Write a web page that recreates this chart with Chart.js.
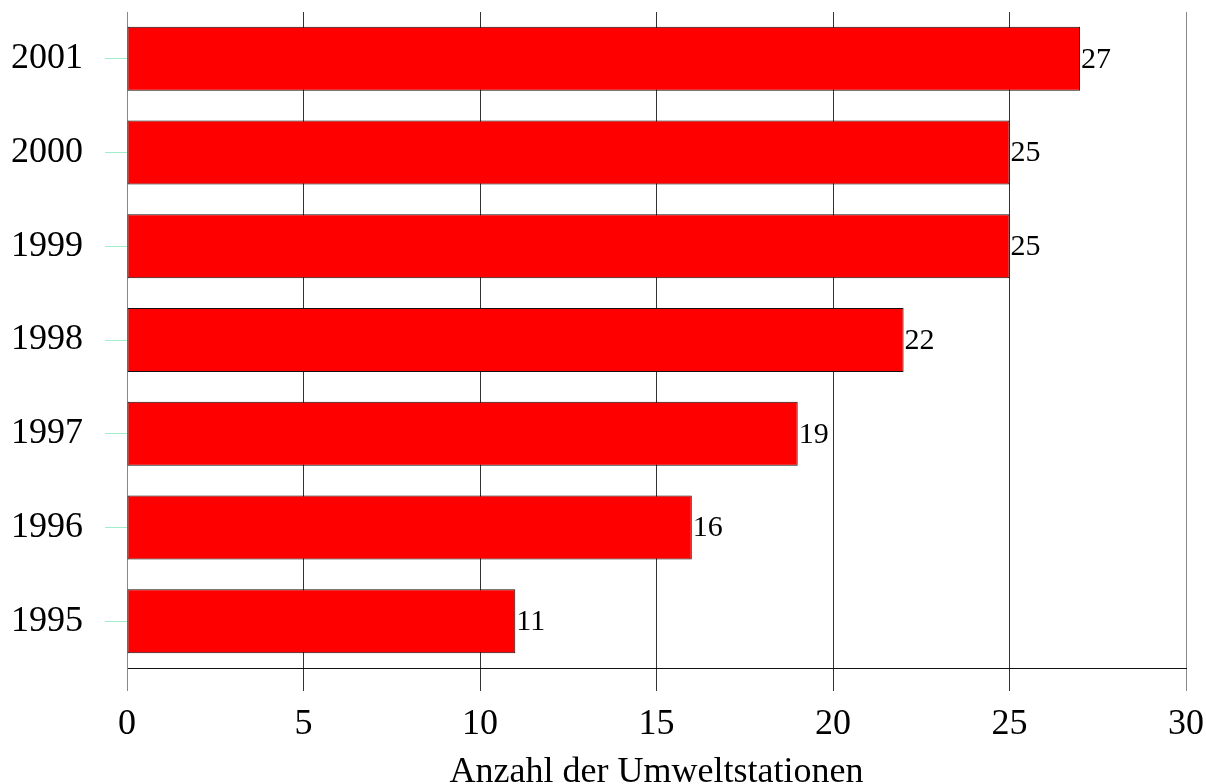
<!DOCTYPE html>
<html>
<head>
<meta charset="utf-8">
<script src="https://cdn.jsdelivr.net/npm/chart.js@4/dist/chart.umd.min.js"></script>
<style>
    html, body { margin: 0; padding: 0; background: #fff; }
    #wrap { width: 1206px; height: 784px; }
</style>
</head>
<body>
<div id="wrap"><canvas id="chart" width="1206" height="784"></canvas></div>
<script>
const years = ['2001', '2000', '1999', '1998', '1997', '1996', '1995'];
const stations = [27, 25, 25, 22, 19, 16, 11];
const xTicks = [0, 5, 10, 15, 20, 25, 30];
const xTitle = 'Anzahl der Umweltstationen';

const serif = '"Liberation Serif", "Times New Roman", serif';

// value labels right next to the end of each bar
const barLabels = {
    id: 'barLabels',
    afterDatasetsDraw(chart) {
        const ctx = chart.ctx;
        const meta = chart.getDatasetMeta(0);
        ctx.save();
        ctx.font = `30px ${serif}`;
        ctx.fillStyle = '#000';
        ctx.textAlign = 'left';
        ctx.textBaseline = 'middle';
        meta.data.forEach((bar, i) => {
            ctx.fillText(String(stations[i]), bar.x + 1, bar.y + 1);
        });
        ctx.restore();
    },
};

new Chart(document.getElementById('chart'), {
    type: 'bar',
    data: {
        labels: years,
        datasets: [{
            data: stations,
            backgroundColor: '#ff0000',
            borderColor: '#111',
            borderWidth: 1,
            borderSkipped: false,
            barPercentage: 1,
            categoryPercentage: 0.683,
        }],
    },
    options: {
        indexAxis: 'y',
        responsive: false,
        animation: false,
        layout: { padding: { top: 12, right: 20, bottom: 0, left: 0 } },
        plugins: {
            legend: { display: false },
            tooltip: { enabled: false },
        },
        scales: {
            x: {
                min: 0,
                max: 30,
                afterBuildTicks(scale) {
                    scale.ticks = xTicks.map((v) => ({ value: v }));
                },
                afterFit(scale) {
                    scale.height = 116;
                    scale.paddingLeft = 0;
                    scale.paddingRight = 0;
                },
                grid: {
                    color: (c) => (c.index === 0 || c.index === xTicks.length - 1 ? '#888' : '#333'),
                    lineWidth: 1,
                    tickLength: 23,
                },
                border: { display: true, color: '#111' },
                ticks: {
                    color: '#000',
                    padding: 12,
                    font: { family: serif, size: 36 },
                },
                title: {
                    display: true,
                    text: xTitle,
                    color: '#000',
                    font: { family: serif, size: 36, lineHeight: 1 },
                    padding: { top: 0, bottom: -7 },
                },
            },
            y: {
                afterFit(scale) {
                    scale.width = 127;
                    scale.paddingTop = 0;
                    scale.paddingBottom = 0;
                },
                grid: {
                    offset: false,
                    drawOnChartArea: false,
                    drawTicks: true,
                    tickLength: 22,
                    color: '#9eeec8',
                },
                border: { display: true, color: '#888' },
                ticks: {
                    color: '#000',
                    padding: 22,
                    font: { family: serif, size: 36 },
                },
            },
        },
    },
    plugins: [barLabels],
});
</script>
</body>
</html>
